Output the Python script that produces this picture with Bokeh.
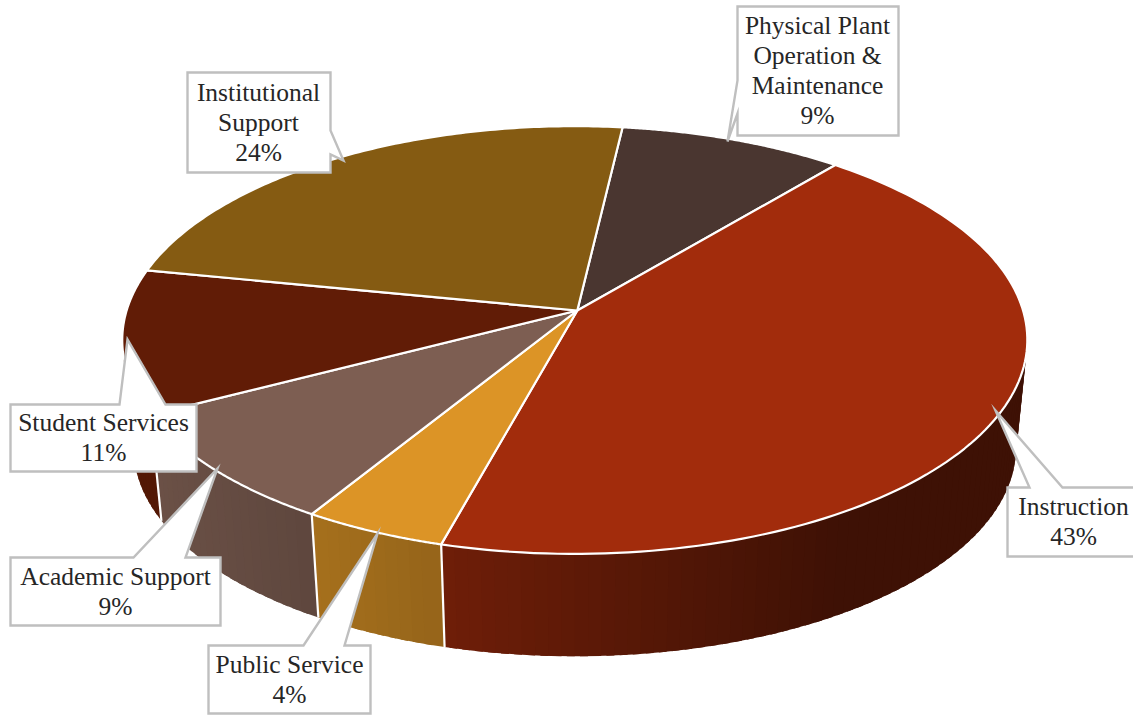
import numpy as np
from bokeh.core.properties import value
from bokeh.embed import file_html
from bokeh.models import ColumnDataSource, Range1d
from bokeh.plotting import figure
from bokeh.resources import INLINE

# Budget shares, clockwise from the first slice
categories = ["Physical Plant Operation & Maintenance", "Instruction", "Public Service",
              "Academic Support", "Student Services", "Institutional Support"]
shares = [9.2, 43.2, 4.49, 8.61, 10.8, 23.7]
colors = ["#4A3630", "#A22C0C", "#DC9426", "#7D5E52", "#611C06", "#855B12"]
label_lines = [["Physical Plant", "Operation &", "Maintenance"], ["Instruction"], ["Public Service"],
               ["Academic Support"], ["Student Services"], ["Institutional", "Support"]]

START_DEG = 6.6          # clockwise from the far side of the disk
CX, CY = 576.8, 310.0    # hub of the top face
RX, RY = 448.2, 209.8    # disk radii before the perspective divide
PERSP = 0.138            # perspective strength along the depth axis
PERSP_SIDE = -0.0055     # slight sideways lean of the view
DROP = 108.5             # vertical offset of the bottom face
BOTTOM_SCALE = 0.975     # bottom face sits further away
STEP_DEG = 1.5           # angular width of one rim band
WHITE = "#FFFFFF"
EDGE = "#BFBFBF"
FONT = "Liberation Serif"


def project(theta_deg, level=0.0):
    """Map disk angles to the page; level 0 is the top face, 1 the bottom."""
    t = np.radians(np.asarray(theta_deg, dtype=float))
    x3, y3 = np.sin(t), -np.cos(t)
    d = 1 - PERSP * y3 - PERSP_SIDE * x3
    s = 1 + (BOTTOM_SCALE - 1) * level
    return CX + s * RX * x3 / d, CY + DROP * level + s * RY * y3 / d


def shade(hex_color, factor):
    rgb = [int(hex_color[i:i + 2], 16) for i in (1, 3, 5)]
    return "#" + "".join(f"{int(round(c * factor)):02X}" for c in rgb)


def wall_light(x):
    # The rim darkens from left to right
    return np.interp(x, [150, 310, 450, 850], [0.86, 0.76, 0.68, 0.38])


edges = START_DEG + np.concatenate([[0], np.cumsum(shares)]) * 3.6
p = figure(width=1133, height=715, x_range=Range1d(0, 1133), y_range=Range1d(715, 0),
           output_backend="svg", toolbar_location=None, min_border=0,
           outline_line_color=None, background_fill_color=WHITE, border_fill_color=WHITE)
p.axis.visible = False
p.grid.visible = False

# Rim of the disk: overlapping bands, so no background shows between them
for i, col in enumerate(colors):
    lo, hi = edges[i], edges[i + 1]
    n = max(int(np.ceil((hi - lo) / STEP_DEG)), 1)
    cuts = np.linspace(lo, hi, n + 1)
    qx, qy, qc = [], [], []
    for a0, a1 in zip(cuts[:-1], cuts[1:]):
        if np.cos(np.radians((a0 + a1) / 2)) > 0.5:
            continue
        a2 = min(a1 + STEP_DEG * 0.6, hi)
        tx, ty = project([a0, a2])
        bx, by = project([a2, a0], 1.0)
        qx.append(list(tx) + list(bx))
        qy.append(list(ty) + list(by))
        qc.append(shade(col, float(wall_light(tx[0]))))
    if qx:
        # Left half of the rim runs towards the viewer, so draw it in reverse
        order = range(len(qx)) if np.sin(np.radians((lo + hi) / 2)) > 0 else reversed(range(len(qx)))
        order = list(order)
        p.patches([qx[k] for k in order], [qy[k] for k in order], fill_color=[qc[k] for k in order],
                  line_color=None)

# White seams on the rim where two slices meet
for e in edges[:-1]:
    if np.cos(np.radians(e)) < 0.3:
        tx, ty = project([e])
        bx, by = project([e], 1.0)
        p.line([tx[0], bx[0]], [ty[0], by[0]], line_color=WHITE, line_width=2.2)

# Top face of each slice
for i, col in enumerate(colors):
    arc = np.linspace(edges[i], edges[i + 1], 120)
    ax, ay = project(arc)
    p.patch(np.r_[CX, ax], np.r_[CY, ay], fill_color=col, line_color=WHITE, line_width=2.2,
            line_join="round")

# Callout outlines: box corners running into a pointer towards the slice
callouts = [
    [(737, 6), (898, 6), (898, 135), (737, 135), (737, 113), (727, 141), (737, 80)],
    [(1007, 487), (1029, 487), (995, 410), (1062, 487), (1140, 487), (1140, 556), (1007, 556)],
    [(208, 645), (303, 645), (377, 533), (344, 645), (370, 645), (370, 713), (208, 713)],
    [(10, 557), (133, 557), (217, 468), (185, 557), (220, 557), (220, 625), (10, 625)],
    [(10, 404), (119, 404), (127, 339), (165, 404), (196, 404), (196, 471), (10, 471)],
    [(187, 72), (330, 72), (330, 130), (343, 160), (330, 154), (330, 172), (187, 172)],
]
p.patches([[v[0] for v in c] for c in callouts], [[v[1] for v in c] for c in callouts],
          fill_color=WHITE, line_color=EDGE, line_width=2.4, line_join="miter")

# Label text: the name lines, then the rounded share
anchors = [(817, 25), (1073, 506), (289, 664), (115, 576), (103, 422), (258, 92)]
LINE_STEP = 30
xs, ys, texts = [], [], []
for (ax, ay), lines, share in zip(anchors, label_lines, shares):
    for k, line in enumerate(lines + [f"{share:.0f}%"]):
        xs.append(ax)
        ys.append(ay + k * LINE_STEP)
        texts.append(line)
p.text(x="x", y="y", text="t", source=ColumnDataSource(dict(x=xs, y=ys, t=texts)),
       text_align="center", text_baseline="middle", text_color="#262626",
       text_font=value(FONT), text_font_size="25.5px")

open("out.html", "w").write(file_html(p, INLINE))
